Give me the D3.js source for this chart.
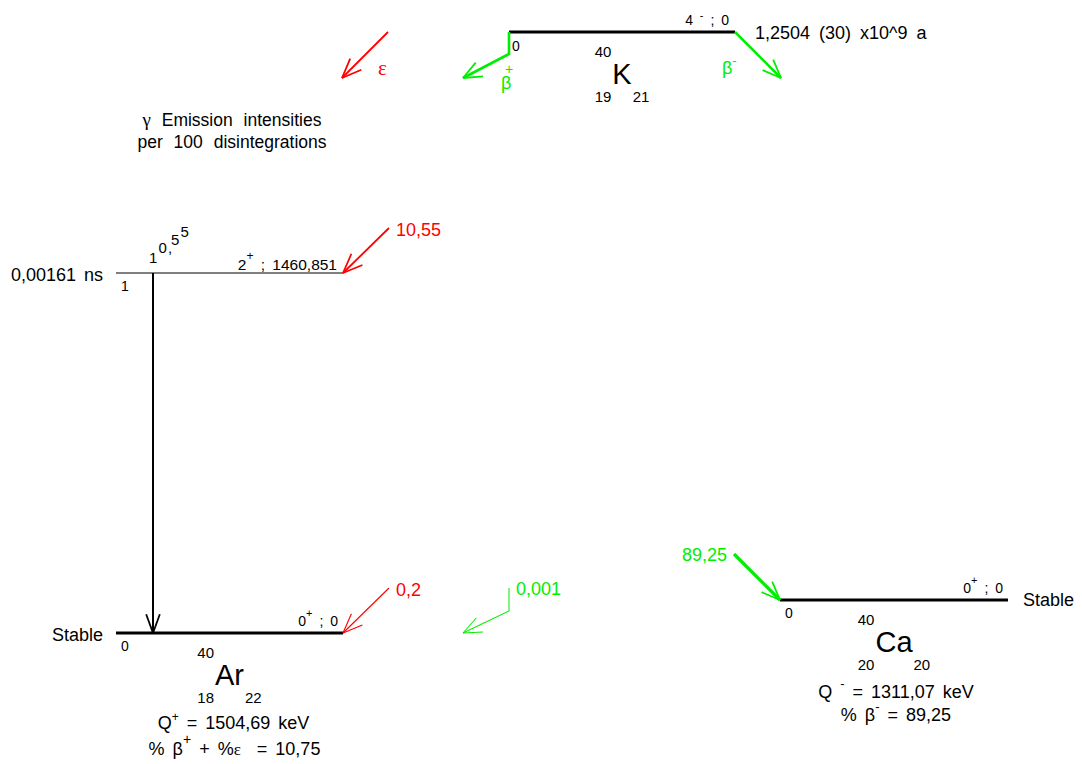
<!DOCTYPE html>
<html><head><meta charset="utf-8">
<script src="https://cdn.jsdelivr.net/npm/d3@7"></script>
<style>
html,body{margin:0;padding:0;background:#fff;overflow:hidden;}
svg text{font-family:Arial,"Liberation Sans",sans-serif;white-space:pre;word-spacing:3px;}
.gk{font-family:"Liberation Serif","Times New Roman",serif;}
</style></head><body>
<svg id="c" width="1082" height="764"></svg>
<script>
// ---------- data ----------
const nuclides = ["K", "Ar", "Ca"];
const massNumbers = [40, 40, 40];
const protonNumbers = [19, 18, 20];
const neutronNumbers = [21, 22, 20];
const parentLevelIndex = [0];
const parentSpins = ["4-"];
const parentEnergies = [0];
const parentHalfLives = ["1,2504 (30) x10^9 a"];
const arLevelIndex = [0, 1];
const arLevelEnergies = [0, 1460.851];
const arLevelSpins = ["0+", "2+"];
const arLevelHalfLives = ["Stable", "0,00161 ns"];
const caLevelIndex = [0];
const caLevelEnergies = [0];
const caLevelSpins = ["0+"];
const caLevelHalfLives = ["Stable"];
const ecIntensities = [0.2, 10.55];      // electron capture to Ar levels 0 and 1460.851
const betaPlusIntensities = [0.001];     // beta+ to Ar level 0
const betaMinusIntensities = [89.25];    // beta- to Ca level 0
const gammaEnergies = [1460.851];
const gammaIntensities = [10.55];
const qValues = [1504.69, 1311.07];      // Q+ (Ar side), Q- (Ca side)
const branchPercents = [10.75, 89.25];   // %b+ + %ec, %b-
const legendLines = ["Emission intensities", "per 100 disintegrations"];
const legendSymbol = "γ";

// ---------- helpers ----------
const RED = "#ff0000", GREEN = "#00ee00";
const fmt = v => String(v).replace(".", ",");
const svg = d3.select("#c");

const yAr = d3.scaleLinear().domain([0, 1460.851]).range([633, 273]);
const yCa = d3.scaleLinear().domain([0, 1460.851]).range([600, 240]);
const yK = d3.scaleLinear().domain([0, 1460.851]).range([32, -328]);
const wScale = d3.scaleSqrt().domain([0, 100]).range([1, 3.4]);

const cols = {K: [509, 735], Ar: [116, 343], Ca: [780, 1008]};

function rich(x, y, parts, size, opt = {}) {
  const t = svg.append("text").attr("x", x).attr("y", y)
    .attr("font-size", size).attr("fill", opt.fill || "#000")
    .attr("text-anchor", opt.anchor || "start");
  let shift = 0;
  parts.forEach(p => {
    if (typeof p === "string") {
      t.append("tspan").attr("dy", -shift).text(p); shift = 0;
    } else if (p.gk) {
      t.append("tspan").attr("dy", -shift).attr("class", "gk").attr("font-size", p.size || size).text(p.gk); shift = 0;
    } else {
      t.append("tspan").attr("dy", -p.dy - shift).attr("font-size", p.size).text(p.sup); shift = -p.dy;
    }
  });
  return t;
}
function arrow(pts, color, w, head = 20, ang = 22) {
  svg.append("path").attr("d", d3.line()(pts)).attr("fill", "none")
    .attr("stroke", color).attr("stroke-width", w).attr("stroke-linejoin", "miter");
  const [tx, ty] = pts[pts.length - 1], [fx, fy] = pts[pts.length - 2];
  const a = Math.atan2(fy - ty, fx - tx);
  [-1, 1].forEach(s => {
    const b = a + s * ang * Math.PI / 180;
    svg.append("line").attr("x1", tx).attr("y1", ty)
      .attr("x2", tx + head * Math.cos(b)).attr("y2", ty + head * Math.sin(b))
      .attr("stroke", color).attr("stroke-width", Math.min(w, 1.8));
  });
}
function groundLabel(x, y, spin, energy) {
  const base = spin.slice(0, -1), sign = spin.slice(-1);
  const parts = sign === "-"
    ? [base + " ", {sup: "-", size: 11, dy: 6}, " ; " + fmt(energy)]
    : [base, {sup: sign, size: 11, dy: 9}, " ; " + fmt(energy)];
  rich(x, y, parts, 14, {anchor: "end"});
}
function level(x1, x2, y, ground, idx, spin, energy, halfLife, side) {
  svg.append("line").attr("x1", x1).attr("x2", x2).attr("y1", y).attr("y2", y)
    .attr("stroke", ground ? "#000" : "#555").attr("stroke-width", ground ? 3 : 1.4);
  svg.append("text").attr("x", x1 + 5).attr("y", y + 18).attr("font-size", 14).text(idx);
  if (ground) {
    groundLabel(x2 - 5, y - 7, spin, energy);
  } else {
    rich(x2 - 6, y - 3, [spin.slice(0, -1), {sup: spin.slice(-1), size: 12, dy: 10}, " ; " + fmt(energy)], 15.5, {anchor: "end"});
  }
  if (halfLife) {
    if (side === "left") svg.append("text").attr("x", x1 - 13).attr("y", y + 8).attr("font-size", 18).attr("text-anchor", "end").text(halfLife);
    else svg.append("text").attr("x", x2 + 15).attr("y", y + 6).attr("font-size", 18).text(halfLife);
  }
}
function nuclide(i, cx, yLevel) {
  const base = yLevel + 52;
  const sym = svg.append("text").attr("x", cx).attr("y", base).attr("font-size", 29)
    .attr("text-anchor", "middle").text(nuclides[i]);
  const w = sym.node().getComputedTextLength();
  const xs = cx - w / 2, xe = cx + w / 2;
  svg.append("text").attr("x", xs - 1).attr("y", base - 27).attr("font-size", 15).attr("text-anchor", "end").text(massNumbers[i]);
  svg.append("text").attr("x", xs - 1).attr("y", base + 18).attr("font-size", 15).attr("text-anchor", "end").text(protonNumbers[i]);
  svg.append("text").attr("x", xe + 1).attr("y", base + 18).attr("font-size", 15).text(neutronNumbers[i]);
  return base;
}

// ---------- parent K ----------
const [kx1, kx2] = cols.K, ky = yK(parentEnergies[0]);
svg.append("line").attr("x1", kx1).attr("x2", kx2).attr("y1", ky).attr("y2", ky).attr("stroke", "#000").attr("stroke-width", 3);
svg.append("text").attr("x", kx1 + 3).attr("y", ky + 19).attr("font-size", 14).text(parentLevelIndex[0]);
groundLabel(kx2 - 6, ky - 7, parentSpins[0], parentEnergies[0]);
svg.append("text").attr("x", kx2 + 20).attr("y", ky + 7).attr("font-size", 18).attr("style", "word-spacing:4px").text(parentHalfLives[0]);
nuclide(0, (kx1 + kx2) / 2, ky);

// legend arrows at parent
arrow([[kx1 - 121, ky], [kx1 - 167, ky + 46]], RED, 1.8, 21, 22);
svg.append("text").attr("class", "gk").attr("x", kx1 - 131).attr("y", ky + 43).attr("font-size", 21).attr("fill", RED).text("ε");
arrow([[kx1, ky], [kx1, ky + 22], [kx1 - 46, ky + 46]], GREEN, 2.6, 20, 23);
svg.append("text").attr("x", kx1 - 8).attr("y", ky + 57).attr("font-size", 18).attr("fill", GREEN).text("β");
svg.append("text").attr("x", kx1).attr("y", ky + 42).attr("font-size", 14).attr("fill", GREEN).attr("text-anchor", "middle").text("+");
arrow([[kx2, ky], [kx2 + 46, ky + 46]], GREEN, 2.6, 20, 22);
rich(kx2 - 13, ky + 42, ["β", {sup: "-", size: 13, dy: 9}], 18, {fill: GREEN});

// legend title
legendLines.forEach((s, i) => {
  const t = svg.append("text").attr("x", 232).attr("y", 126 + i * 22).attr("font-size", 17.5)
    .attr("text-anchor", "middle").attr("style", "word-spacing:6px");
  if (i === 0) t.append("tspan").attr("class", "gk").attr("font-size", 19).text(legendSymbol + " ");
  t.append("tspan").text(s);
});

// ---------- daughter Ar ----------
const [ax1, ax2] = cols.Ar;
arLevelEnergies.forEach((e, i) => {
  level(ax1, ax2, yAr(e), e === 0, arLevelIndex[i], arLevelSpins[i], e, arLevelHalfLives[i], "left");
});
// EC feeding
arLevelEnergies.forEach((e, i) => {
  const y = yAr(e);
  arrow([[ax2 + 46, y - 45], [ax2, y]], RED, wScale(ecIntensities[i]), 21, 22);
  svg.append("text").attr("x", ax2 + 53).attr("y", y - 37).attr("font-size", 18).attr("fill", RED).text(fmt(ecIntensities[i]));
});
// beta+ feeding
{
  const y = yAr(0), xv = ax2 + 166;
  arrow([[xv, y - 45], [xv, y - 22], [xv - 46, y]], GREEN, wScale(betaPlusIntensities[0]), 20, 23);
  svg.append("text").attr("x", xv + 7).attr("y", y - 38).attr("font-size", 18).attr("fill", GREEN).text(fmt(betaPlusIntensities[0]));
}
// gamma
gammaEnergies.forEach((g, i) => {
  const xg = ax1 + 37, yTop = yAr(g), yBot = yAr(0);
  arrow([[xg, yTop], [xg, yBot]], "#000", 2, 20, 20);
  const chars = fmt(gammaIntensities[i]).split("");
  let cx = xg - 4, cy = yTop - 10;
  const t = svg.append("text").attr("font-size", 15);
  chars.forEach((c, k) => {
    if (k > 0 && c !== ",") cy -= (k === 1 ? 10 : 8);
    t.append("tspan").attr("x", cx).attr("y", cy).text(c);
    cx += c === "," ? 3 : 9.5;
  });
});
{
  const base = nuclide(1, (ax1 + ax2) / 2, yAr(0));
  const cx = (ax1 + ax2) / 2 + 4;
  rich(cx, base + 44, ["Q", {sup: "+", size: 12, dy: 8}, " = " + fmt(qValues[0]) + " keV"], 18, {anchor: "middle"});
  rich(cx + 1, base + 70, ["% β", {sup: "+", size: 14, dy: 11}, " + %", {gk: "ε", size: 17}, "  = " + fmt(branchPercents[0])], 18, {anchor: "middle"});
}

// ---------- daughter Ca ----------
const [cx1, cx2] = cols.Ca;
caLevelEnergies.forEach((e, i) => {
  const y = yCa(e);
  level(cx1, cx2, y, true, caLevelIndex[i], caLevelSpins[i], e, caLevelHalfLives[i], "right");
  arrow([[cx1 - 46, y - 46], [cx1, y]], GREEN, wScale(betaMinusIntensities[i]), 20, 22);
  svg.append("text").attr("x", cx1 - 53).attr("y", y - 39).attr("font-size", 18).attr("fill", GREEN).attr("text-anchor", "end").text(fmt(betaMinusIntensities[i]));
});
{
  const base = nuclide(2, (cx1 + cx2) / 2, yCa(0));
  const cx = (cx1 + cx2) / 2 + 2;
  rich(cx, base + 46, ["Q ", {sup: "-", size: 13, dy: 10}, " = " + fmt(qValues[1]) + " keV"], 18, {anchor: "middle"});
  rich(cx, base + 69, ["% β", {sup: "-", size: 13, dy: 10}, " = " + fmt(branchPercents[1])], 18, {anchor: "middle"});
}
</script>
</body></html>
